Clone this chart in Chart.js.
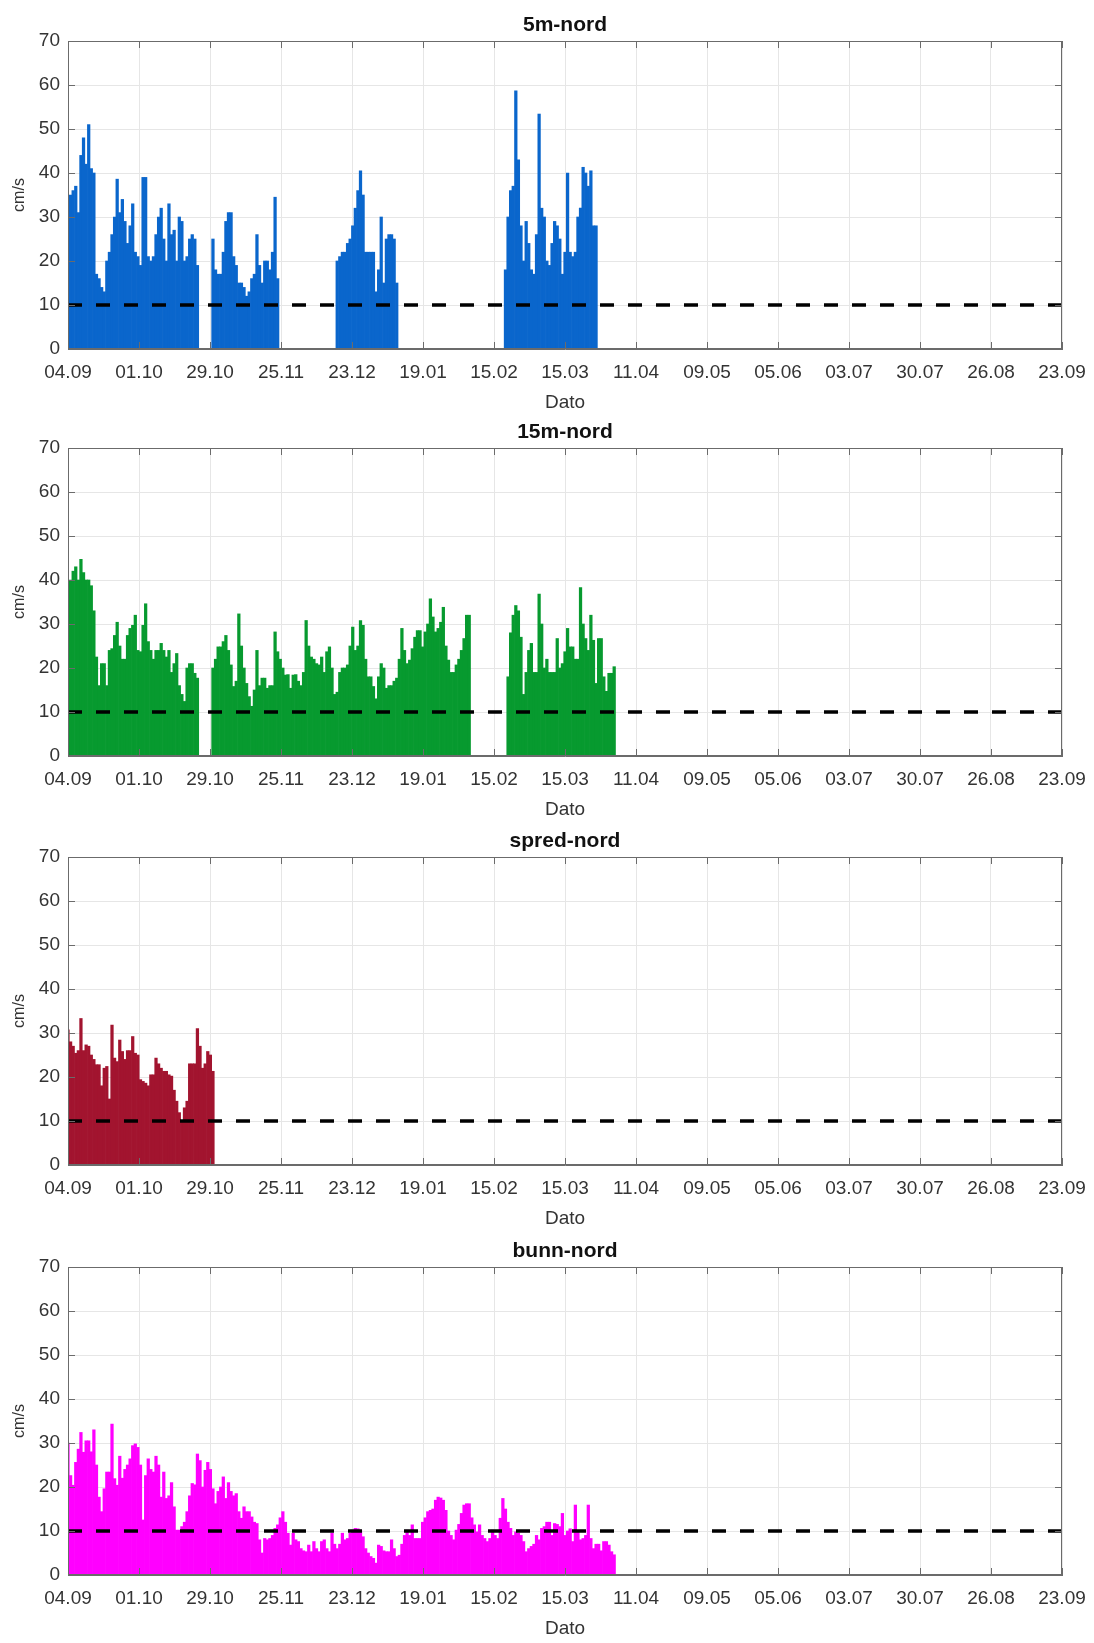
<!DOCTYPE html>
<html>
<head>
<meta charset="utf-8">
<script src="https://cdn.jsdelivr.net/npm/chart.js@4.4.1/dist/chart.umd.min.js"></script>
<style>
  body { margin: 0; background: #fff; overflow: hidden; }
  .panel { position: absolute; left: 0; width: 1094px; height: 420px; }
</style>
</head>
<body>
<div class="panel" style="top:0px"><canvas id="p1" width="1094" height="420"></canvas></div>
<div class="panel" style="top:407px"><canvas id="p2" width="1094" height="420"></canvas></div>
<div class="panel" style="top:816px"><canvas id="p3" width="1094" height="420"></canvas></div>
<div class="panel" style="top:1226px"><canvas id="p4" width="1094" height="420"></canvas></div>
<script>
// AXIS DATA
const xTickLabels = ['04.09', '01.10', '29.10', '25.11', '23.12', '19.01', '15.02', '15.03',
	'11.04', '09.05', '05.06', '03.07', '30.07', '26.08', '23.09'];
const xSpanDays = 384;
const yMax = 70;
const yStep = 10;
const threshold = 10;

// 5m-nord : daily peak speed (cm/s), segments start at these days
const nord5Starts = [0, 56, 104, 169];
const nord5Seg1 = [22, 35, 36, 37, 31, 44, 48, 42, 51, 41, 40, 17, 16, 14, 13, 20, 22, 26, 30, 38.6,
	31, 34, 29, 24, 28, 33, 22, 21, 19, 39, 39, 21, 20, 21, 26, 30, 32, 25, 20, 33,
	26, 27, 20, 30, 29, 20, 21, 25, 26, 25, 19];
const nord5Seg2 = [25, 18, 17, 17, 22, 29, 31, 31, 21, 19, 15, 15, 14, 12, 13, 16, 17, 26, 19, 15,
	20, 20, 18, 22, 34.5, 16];
const nord5Seg3 = [20, 21, 22, 22, 24, 25, 28, 32, 36, 40.5, 35, 22, 22, 22, 22, 13, 18, 30, 15, 25,
	26, 26, 25, 15];
const nord5Seg4 = [18, 30, 36, 37, 58.7, 43, 28, 20, 29, 24, 18, 17, 26, 53.4, 32, 30, 20, 19, 24, 29,
	28, 25, 17, 22, 40, 22, 21, 22, 30, 32, 41.3, 40, 37, 40.5, 28, 28];

// 15m-nord
const nord15Starts = [0, 56, 170];
const nord15Seg1 = [30, 40, 42, 43, 40, 44.7, 41.7, 40, 40, 38.7, 33, 22.5, 16, 21, 21, 16, 24, 24.4, 27.4, 30.4,
	25, 22, 22, 27.4, 29, 29.7, 32, 24, 23.7, 29.7, 34.6, 26, 24, 22, 24, 24, 25.6, 24, 22.5, 24,
	19, 21, 23.3, 16, 14, 12.4, 20, 21, 21, 18.8, 17.7];
const nord15Seg2 = [20, 22, 24.8, 24.8, 26, 27.4, 24, 20.7, 15.8, 17, 32.3, 25, 20, 16.5, 13.5, 11.3, 15, 24, 16, 17.7,
	17.7, 15.4, 16, 16, 28.2, 23.7, 22, 20, 18.4, 18.5, 15.4, 18.4, 18.5, 17, 16, 19, 30.8, 25, 22.5, 22,
	21, 20.7, 22.5, 19, 23.7,
	24.8, 20, 14, 14.5, 19, 20, 20, 20.7, 25, 29.3, 24, 25, 30.8, 29.7, 22, 18, 18, 15.8, 13, 18,
	21, 20, 15.4, 16, 16, 17, 17.7, 22, 29, 24, 21, 21.8, 24.4, 27, 28.5, 28.5, 24.8, 28.2, 30, 35.7,
	31.6, 28.2, 29, 30.4, 33.8, 25, 21.8, 19, 19, 20.7, 22, 24, 26.7, 32, 32];
const nord15Seg3 = [18, 28, 32, 34.2, 33, 27, 14, 19, 24, 25.6, 19, 19, 36.8, 30, 20, 22, 19, 19, 19, 26.7,
	20, 21, 23.7, 29, 24.8, 24.8, 22, 22, 38.3, 30, 26.7, 24, 32, 26.3, 16.5, 26.7, 26.7, 18, 14.7, 18.8,
	18.8, 20.3];

// spred-nord
const spredStarts = [0];
const spredSeg1 = [30.7, 28, 27, 25.4, 26, 33.3, 26, 27.3, 27, 25, 24, 22.8, 22.8, 18, 22, 22.4, 15, 31.8, 24.3, 23.5,
	28.4, 25.8, 24, 26, 26, 29.2, 25.4, 25, 19.4, 19, 18.6, 18, 20.5, 20.5, 24.3, 23, 22, 21.3, 21.3, 20.5,
	20.2, 17, 14.5, 11.9, 10, 13, 14.5, 23, 23, 23, 31, 27, 22, 23, 25.8, 25, 21.3];

// bunn-nord
const bunnStarts = [0];
const bunnSeg1 = [30, 22.6, 20.4, 25.6, 28.6, 32.4, 27.9, 30.5, 30.5, 28, 33, 25, 17.7, 14.4, 19.6, 23.4, 23.4, 34.3, 21.9, 20.4,
	27, 22, 24, 25, 26.4, 29.4, 29.8, 29, 25, 12.5, 22.6, 26.4, 24, 23.4, 27, 25, 17.7, 23.4, 17.4, 18,
	21, 15.5, 10.2, 10.2, 11, 12, 14.4, 18, 20.8, 20.5, 27.5, 26, 20, 23.8, 25.6, 24, 19.6, 16.2, 19, 20,
	22.3, 17.4, 21, 19, 18, 18.5, 14.4, 12.9, 15.5, 14.4, 14.4, 13.2, 12, 11.7, 8, 5, 8.3, 8, 8.3, 9,
	10.6, 11.4, 13, 14.4, 12, 9.5, 6.8, 9.5, 8, 7.6, 6, 5.5, 5.3, 6.8, 5.3, 7.6, 6, 5.3, 7.6, 8,
	6, 5.3, 9.5, 7, 6, 7, 9.5, 8, 8.3,
	9.5, 10.2, 10.6, 10.5, 10.2, 8.7, 6, 5, 4.2, 3.8, 2.7, 6.8, 6.5, 5.5, 5.3, 5.3, 8, 6, 4.2, 4.5,
	7, 9, 10.2, 9, 11.4, 8.3, 8.3, 8.3, 12, 13, 14.4, 14.7, 15, 17, 17.7, 17.5, 17, 14.7, 10, 9,
	8, 10.2, 11.5, 14, 15.9, 16.2, 16.2, 13, 11.4, 9.8, 11.4, 9, 8.3, 7.6, 8.3, 10.2, 9, 8.3, 12.9, 17.4,
	15, 12, 10.6, 9, 9.8, 9.5, 9, 7.6, 5.3, 6, 6.5, 7, 9, 8, 10.6, 11, 12, 12, 9, 11.7,
	11.5, 11, 14, 9, 10, 10.5, 7.6, 15.9, 10, 8, 8.3, 9, 15.9, 8.3, 6, 7, 7, 5.5, 7.6, 7.6,
	6.8, 5.3, 4.6];

// STYLE
const FONT = '"Liberation Sans", Arial, Helvetica, sans-serif';
const TXT = '#333333';
const GRID = '#e6e6e6';
const AXIS = '#6b6b6b';

// BUILD POINTS
function toPoints(starts, segs) {
	let pts = [];
	segs.forEach((seg, k) => {
		seg.forEach((v, i) => pts.push({ x: starts[k] + i, y: v }));
	});
	return pts;
}

// BOX + INWARD TICKS
const axesBox = {
	id: 'axesBox',
	afterDatasetsDraw(chart) {
		const { ctx, chartArea: a, scales: { x, y } } = chart;
		ctx.save();
		ctx.strokeStyle = AXIS;
		ctx.lineWidth = 1;
		ctx.strokeRect(Math.round(a.left) + 0.5, Math.round(a.top) + 0.5,
			Math.round(a.width) - 1, Math.round(a.height) - 1);
		ctx.beginPath();
		x.ticks.forEach(t => {
			const px = Math.round(x.getPixelForValue(t.value)) + 0.5;
			ctx.moveTo(px, a.bottom); ctx.lineTo(px, a.bottom - 7);
			ctx.moveTo(px, a.top); ctx.lineTo(px, a.top + 7);
		});
		y.ticks.forEach(t => {
			const py = Math.round(y.getPixelForValue(t.value)) + 0.5;
			ctx.moveTo(a.left, py); ctx.lineTo(a.left + 7, py);
			ctx.moveTo(a.right, py); ctx.lineTo(a.right - 7, py);
		});
		ctx.stroke();
		ctx.restore();
	}
};

// MAKE ONE PANEL
function makePanel(id, title, color, starts, segs) {
	const ctx = document.getElementById(id).getContext('2d');
	return new Chart(ctx, {
		type: 'bar',
		data: {
			datasets: [{
				type: 'line',
				data: [{ x: 0, y: threshold }, { x: xSpanDays, y: threshold }],
				borderColor: '#000',
				borderWidth: 3.5,
				borderDash: [14, 14],
				pointRadius: 0,
				order: 1
			}, {
				data: toPoints(starts, segs),
				backgroundColor: color,
				borderWidth: 0,
				barPercentage: 1,
				categoryPercentage: 1,
				order: 2
			}]
		},
		options: {
			responsive: false,
			animation: false,
			devicePixelRatio: 1,
			layout: { padding: { top: 0, right: 32, bottom: 0, left: 0 } },
			plugins: {
				legend: { display: false },
				tooltip: { enabled: false },
				title: { display: false }
			},
			scales: {
				x: {
					type: 'linear',
					min: 0,
					max: xSpanDays,
					offset: false,
					afterBuildTicks: s => {
						s.ticks = xTickLabels.map((l, i) => ({ value: i * xSpanDays / (xTickLabels.length - 1) }));
					},
					afterFit: s => { s.height = 71; s.paddingLeft = 0; s.paddingRight = 0; },
					grid: { color: GRID, drawTicks: false, offset: false },
					border: { color: AXIS },
					ticks: {
						autoSkip: false, maxRotation: 0, minRotation: 0, padding: 12, color: TXT,
						font: { family: FONT, size: 19 },
						callback: (v, i) => xTickLabels[i]
					},
					title: {
						display: true, text: 'Dato', color: TXT,
						font: { family: FONT, size: 19 },
						padding: { top: 0, bottom: 6 }
					}
				},
				// top axis only carries the panel title, centred over the plot box
				xTop: {
					type: 'linear',
					position: 'top',
					min: 0,
					max: xSpanDays,
					afterFit: s => { s.height = 41; s.paddingLeft = 0; s.paddingRight = 0; },
					grid: { display: false },
					border: { display: false },
					ticks: { display: false },
					title: {
						display: true, text: title, color: '#111',
						font: { family: FONT, size: 21, weight: 'bold', lineHeight: 1 },
						padding: { top: 15, bottom: 5 }
					}
				},
				y: {
					min: 0,
					max: yMax,
					afterFit: s => { s.width = 68; },
					grid: { color: GRID, drawTicks: false },
					border: { color: AXIS },
					ticks: { stepSize: yStep, padding: 8, color: TXT, font: { family: FONT, size: 19 } },
					title: {
						display: true, text: 'cm/s', color: TXT,
						font: { family: FONT, size: 16 },
						padding: { top: 10, bottom: 0 }
					}
				}
			}
		},
		plugins: [axesBox]
	});
}

makePanel('p1', '5m-nord', '#0a66cc', nord5Starts, [nord5Seg1, nord5Seg2, nord5Seg3, nord5Seg4]);
makePanel('p2', '15m-nord', '#079a2f', nord15Starts, [nord15Seg1, nord15Seg2, nord15Seg3]);
makePanel('p3', 'spred-nord', '#a2142f', spredStarts, [spredSeg1]);
makePanel('p4', 'bunn-nord', '#ff00ff', bunnStarts, [bunnSeg1]);
</script>
</body>
</html>
